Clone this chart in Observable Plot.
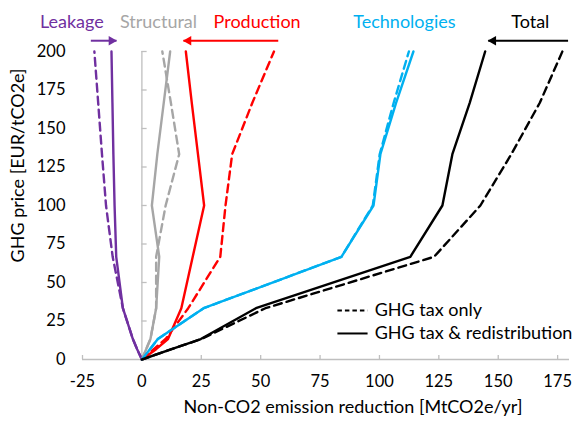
<!DOCTYPE html>
<html><head><meta charset="utf-8">
<script src="https://cdn.jsdelivr.net/npm/d3@7"></script>
<script src="https://cdn.jsdelivr.net/npm/@observablehq/plot@0.6"></script>
<style>body{margin:0;background:#fff} svg{display:block}</style>
</head><body><div id="chart"></div><script>
// GHG price levels [EUR/tCO2e]
const prices = [0, 6.7, 13.3, 33.3, 66.7, 100, 133.3, 166.7, 200];
// Non-CO2 emission reduction [MtCO2e/yr], "GHG tax only" (dashed) and "GHG tax & redistribution" (solid)
const leakageTax      = [0, -2.0, -3.8, -8.0, -12.3, -15.1, -16.8, -18.4, -20.0];
const leakageRedis    = [0, -2.0, -3.8, -8.0, -10.8, -11.5, -12.0, -12.4, -12.8];
const structuralTax   = [0, 1.8, 3.6, 6.0, 6.0, 10.0, 15.7, 12.2, 8.6];
const structuralRedis = [0, 1.8, 3.6, 6.0, 7.3, 4.2, 6.5, 9.2, 11.9];
const productionTax   = [0, 5.0, 10.0, 19.5, 33.0, 35.2, 38.0, 46.5, 55.6];
const productionRedis = [0, 6.0, 11.0, 16.6, 21.4, 26.2, 23.6, 21.0, 18.5];
const techTax         = [0, 3.4, 6.7, 26.0, 84.0, 97.2, 100.1, 106.0, 112.4];
const techRedis       = [0, 3.4, 6.7, 26.0, 84.0, 97.5, 100.4, 107.0, 114.3];
const totalTax        = [0, 12.5, 25.0, 52.0, 123.0, 142.5, 155.5, 167.5, 177.0];
const totalRedis      = [0, 12.5, 24.8, 48.0, 113.0, 126.5, 130.7, 138.0, 144.5];

const categories = ["Leakage", "Structural", "Production", "Technologies", "Total"];
const colors = ["#7030A0", "#A6A6A6", "#FF0000", "#00B0F0", "#000000"];
const labelX = [-29.5, 7.0, 48.5, 110.5, 163.5];   // label anchor, x units
const labelY = 219;
// arrows at top: from tax-only to redistribution endpoint
const arrowCats = ["Leakage", "Production", "Total"];
const arrowFrom = [-21.5, 57.4, 179.4];
const arrowTo   = [-10.7, 17.5, 145.8];
const arrowY = 207;

const xTicks = [-25, 0, 25, 50, 75, 100, 125, 150, 175];
const yTicks = [0, 25, 50, 75, 100, 125, 150, 175, 200];
const xTitle = "Non-CO2 emission reduction [MtCO2e/yr]";
const yTitle = "GHG price [EUR/tCO2e]";
const legendLabels = ["GHG tax only", "GHG tax & redistribution"];
const legendY = [31.8, 16.9];

const taxSeries = [leakageTax, structuralTax, productionTax, techTax, totalTax];
const redisSeries = [leakageRedis, structuralRedis, productionRedis, techRedis, totalRedis];
const toRows = (series) => series.flatMap((vals, i) => vals.map((v, j) => ({cat: categories[i], x: v, y: prices[j]})));
const taxRows = toRows(taxSeries);
const redisRows = toRows(redisSeries);
const colorOf = Object.fromEntries(categories.map((c, i) => [c, colors[i]]));
const arrows = arrowCats.map((c, i) => ({cat: c, x1: arrowFrom[i], x2: arrowTo[i], dir: arrowTo[i] > arrowFrom[i] ? 1 : -1}));
const labels = categories.map((c, i) => ({cat: c, x: labelX[i]}));
const legend = legendLabels.map((t, i) => ({t, y: legendY[i], dash: i === 0}));

const axisGray = "#BFBFBF";
const font = "Lato, 'Open Sans', sans-serif";
const fsTick = 16.5;
const fs = 18;

const chart = Plot.plot({
  width: 578, height: 426,
  marginLeft: 82, marginRight: 9, marginTop: 51, marginBottom: 67,
  style: {fontFamily: font, fontSize: fs + "px", background: "#fff", color: "#000", overflow: "visible"},
  x: {domain: [-25, 180]},
  y: {domain: [0, 200]},
  marks: [
    Plot.ruleY([0], {stroke: axisGray, strokeWidth: 1.3}),
    Plot.ruleX(xTicks, {x: d => d, y1: 0, y2: 2.6, stroke: axisGray, strokeWidth: 1.3}),
    Plot.ruleX([0], {y1: 0, y2: 200, stroke: axisGray, strokeWidth: 1.3}),
    Plot.ruleY(yTicks, {y: d => d, x1: 0, x2: 2.2, stroke: axisGray, strokeWidth: 1.3}),
    Plot.axisX(xTicks, {tickSize: 0, tickPadding: 16, label: null, tickFormat: d => String(d), fontSize: fsTick}),
    Plot.axisY(yTicks, {tickSize: 0, tickPadding: 17, label: null, tickFormat: d => String(d), fontSize: fsTick}),
    Plot.line(taxRows, {x: "x", y: "y", z: "cat", stroke: d => colorOf[d.cat], strokeWidth: 2.4, strokeDasharray: "8,5", strokeLinejoin: "round"}),
    Plot.line(redisRows, {x: "x", y: "y", z: "cat", stroke: d => colorOf[d.cat], strokeWidth: 2.4, strokeLinejoin: "round"}),
    // top arrows
    Plot.link(arrows, {x1: "x1", x2: "x2", y1: arrowY, y2: arrowY, stroke: d => colorOf[d.cat], strokeWidth: 2}),
    Plot.dot(arrows.filter(d => d.dir > 0), {x: "x2", y: arrowY, symbol: "triangle2", r: 4.6, rotate: 90, dx: -5, fill: d => colorOf[d.cat], stroke: "none"}),
    Plot.dot(arrows.filter(d => d.dir < 0), {x: "x2", y: arrowY, symbol: "triangle2", r: 4.6, rotate: -90, dx: 5, fill: d => colorOf[d.cat], stroke: "none"}),
    // category labels
    Plot.text(labels, {x: "x", y: labelY, text: "cat", fill: d => colorOf[d.cat], fontSize: fs, textAnchor: "middle"}),
    // legend
    Plot.link(legend.filter(d => d.dash), {x1: 82.3, x2: 95, y1: "y", y2: "y", stroke: "#000", strokeWidth: 2, strokeDasharray: "4.5,3"}),
    Plot.link(legend.filter(d => !d.dash), {x1: 82.3, x2: 95, y1: "y", y2: "y", stroke: "#000", strokeWidth: 2}),
    Plot.text(legend, {x: 98, y: "y", text: "t", textAnchor: "start", fill: "#000", fontSize: fs}),
    // axis titles
    Plot.text([xTitle], {frameAnchor: "bottom", dx: 27, dy: 53, text: d => d, fontSize: fs, fill: "#000", textAnchor: "middle"}),
    Plot.text([yTitle], {frameAnchor: "left", dx: -64, dy: -40, rotate: -90, text: d => d, fontSize: fs, fill: "#000", textAnchor: "middle"})
  ]
});
document.getElementById("chart").appendChild(chart);
</script></body></html>
